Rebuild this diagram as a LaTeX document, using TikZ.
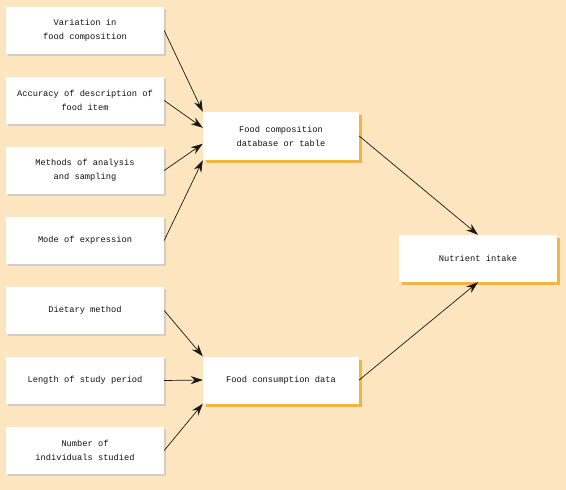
\documentclass[tikz,border=0pt]{standalone}
\usepackage{fontspec}
\setmonofont{Liberation Mono}
\usetikzlibrary{arrows.meta,calc,shadows}
\definecolor{bg}{HTML}{FDE5C0}
\definecolor{oshadow}{HTML}{F4B445}
\definecolor{gshadow}{HTML}{D2CDC6}
\definecolor{txt}{HTML}{111111}
\tikzset{
  basebox/.style={fill=white, align=center, text=txt, inner sep=2pt,
    font=\ttfamily\fontsize{8.7}{14}\selectfont},
  leftbox/.style={basebox, minimum width=158pt, minimum height=47pt,
    general shadow={fill=gshadow, shadow xshift=2pt, shadow yshift=-2pt}},
  midbox/.style={basebox, minimum width=156pt, minimum height=47pt,
    general shadow={fill=oshadow, shadow xshift=3pt, shadow yshift=-3pt}},
  arr/.style={draw=black!90, line width=0.7pt, arrows={-Stealth[length=12pt, width=8pt]}}
}
\begin{document}
\begin{tikzpicture}[x=1pt,y=-1pt]
\fill[bg] (0,0) rectangle (566,490);
\useasboundingbox (0,0) rectangle (566,490);

\node[leftbox] (l1) at (85,30.5) {Variation in\\food composition};
\node[leftbox] (l2) at (85,100.5) {Accuracy of description of\\food item};
\node[leftbox] (l3) at (85,170.5) {Methods of analysis\\and sampling};
\node[leftbox] (l4) at (85,240.5) {Mode of expression};
\node[leftbox] (l5) at (85,310.5) {Dietary method};
\node[leftbox] (l6) at (85,380.5) {Length of study period};
\node[leftbox] (l7) at (85,450.5) {Number of\\individuals studied};

\node[midbox, minimum height=48pt] (m1) at (281,136) {Food composition\\database or table};
\node[midbox] (m2) at (281,380) {Food consumption data};
\node[midbox, minimum width=158pt] (r) at (478,258.5) {Nutrient intake};

\draw[arr] (l1.east) -- (m1.north west);
\draw[arr] (l2.east) -- ($(m1.north west)!0.33!(m1.south west)$);
\draw[arr] (l3.east) -- ($(m1.north west)!0.66!(m1.south west)$);
\draw[arr] (l4.east) -- (m1.south west);
\draw[arr] (l5.east) -- (m2.north west);
\draw[arr] (l6.east) -- (m2.west);
\draw[arr] (l7.east) -- (m2.south west);
\draw[arr] (m1.east) -- (r.north);
\draw[arr] (m2.east) -- (r.south);
\end{tikzpicture}
\end{document}
